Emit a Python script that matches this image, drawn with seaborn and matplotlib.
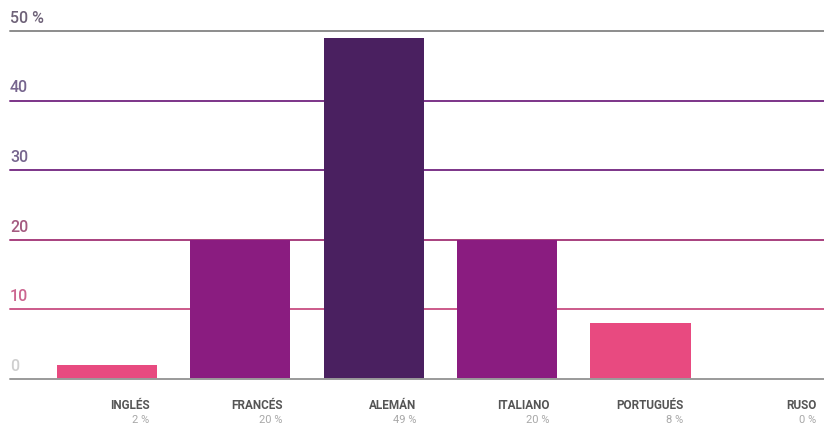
import matplotlib
matplotlib.use("Agg")
import matplotlib.pyplot as plt
import matplotlib.transforms as mtransforms
import seaborn as sns
import pandas as pd

# Idiomas y porcentajes
idiomas = ["INGLÉS", "FRANCÉS", "ALEMÁN", "ITALIANO", "PORTUGUÉS", "RUSO"]
porcentajes = [2, 20, 49, 20, 8, 0]
colores_barras = ["#e84a80", "#8a1c80", "#4a2060", "#8a1c80", "#e84a80", "#e84a80"]

# Escala del eje vertical
ticks_y = [0, 10, 20, 30, 40, 50]
etiquetas_y = ["0", "10", "20", "30", "40", "50 %"]
colores_rejilla = ["#9a9a9a", "#cc5a8a", "#a8407e", "#7c3488", "#7c3488", "#8c8c8c"]
colores_etiquetas_y = ["#cfcfcf", "#cc6690", "#a45a80", "#76658e", "#76658e", "#6e6278"]

sns.set_theme(style="white")
plt.rcParams["font.family"] = ["Roboto", "DejaVu Sans"]

df = pd.DataFrame({"idioma": idiomas, "pct": porcentajes})

fig = plt.figure(figsize=(8.24, 4.27), dpi=100)
ax = fig.add_axes([10 / 824, 47 / 427, 814 / 824, 348 / 427])

sns.barplot(data=df, x="idioma", y="pct", hue="idioma", palette=colores_barras,
            legend=False, width=0.75, saturation=1, linewidth=0, ax=ax, zorder=3)

ax.set_xlim(-0.725, 5.375)
ax.set_ylim(0, 50)
ax.set_xlabel("")
ax.set_ylabel("")
ax.set_xticks([])
ax.set_yticks([])
for s in ax.spines.values():
    s.set_visible(False)

# Líneas de referencia con su rótulo encima
trans = mtransforms.blended_transform_factory(ax.transAxes, ax.transData)
for v, lab, cl, ct in zip(ticks_y, etiquetas_y, colores_rejilla, colores_etiquetas_y):
    ax.axhline(v, color=cl, lw=1.4, zorder=2 if v > 0 else 4, clip_on=False)
    ax.text(0.0, v + 0.9, lab, transform=trans, ha="left", va="bottom",
            fontsize=11.5, color=ct, fontweight="medium")

# Nombres de idioma y porcentaje bajo cada barra
for i, (nom, p) in enumerate(zip(idiomas, porcentajes)):
    ax.text(i + 0.32, -3.6, nom, ha="right", va="center", fontsize=8.5,
            fontweight="bold", color="#555555", clip_on=False)
    ax.text(i + 0.32, -5.7, f"{p} %", ha="right", va="center", fontsize=8,
            color="#a8a8a8", clip_on=False)

fig.savefig("out.png", dpi=100)
